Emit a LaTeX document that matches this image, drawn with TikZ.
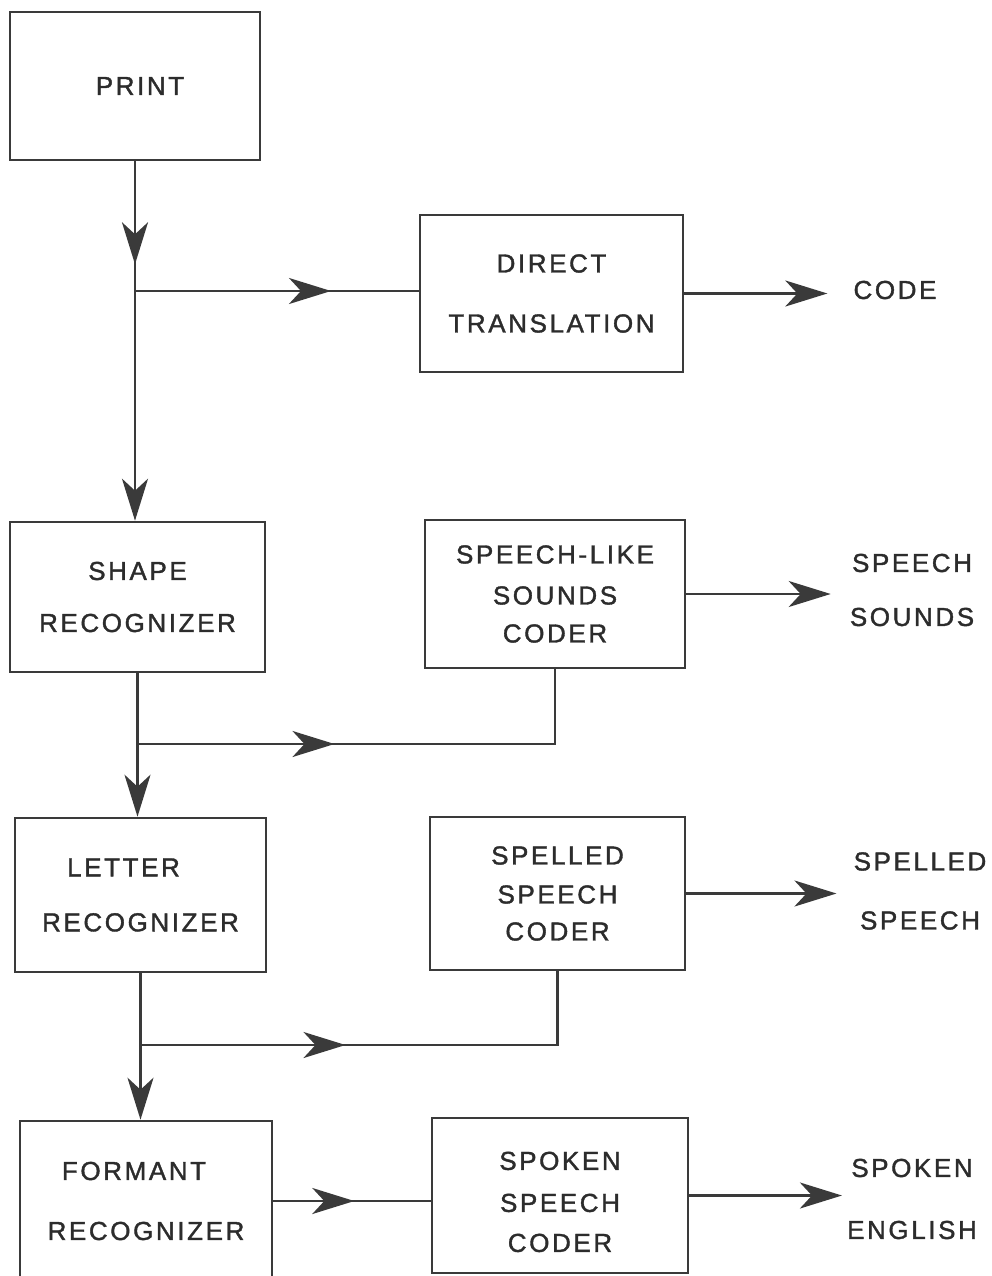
\documentclass[tikz,border=0pt]{standalone}
\usepackage{fontspec}
\setmainfont{Liberation Sans}[LetterSpace=10, FakeBold=1.4]
\usetikzlibrary{arrows.meta,decorations.markings,calc}

\definecolor{ink}{HTML}{3A3A3A}
\definecolor{textink}{HTML}{2C2C2C}

\tikzset{
  every node/.style={font=\fontsize{26}{30}\selectfont, text=textink},
  block/.style={draw=ink, line width=2.6pt, align=center, inner sep=0pt},
  tag/.style={align=center, inner sep=0pt},
  wire/.style={draw=ink, line width=2.6pt},
  head/.tip={Stealth[length=42pt, width=26pt, inset=12pt]},
  endtip/.style={-{head}},
  midtip/.style={postaction={decorate},
    decoration={markings, mark=at position #1 with {\arrow[ink]{head}}}},
}

\begin{document}
\begin{tikzpicture}[x=1pt, y=-1pt]
  \useasboundingbox (0,0) rectangle (992,1276);
  \clip (0,0) rectangle (992,1276);
  \fill[white] (0,0) rectangle (992,1276);

  % processing stages (left column)
  \node[block, minimum width=250pt, minimum height=148pt] (print) at (135,86)
    {\hspace*{10pt}PRINT};
  \node[block, minimum width=255pt, minimum height=150pt] (shape) at (137.5,597)
    {SHAPE\\[22pt]RECOGNIZER};
  \node[block, minimum width=251pt, minimum height=154pt] (letter) at (140.5,895)
    {LETTER\hspace*{34pt}\\[25pt]RECOGNIZER};
  \node[block, minimum width=252pt, minimum height=160pt] (formant) at (146,1201)
    {FORMANT\hspace*{24pt}\\[30pt]RECOGNIZER};

  % coders (middle column)
  \node[block, minimum width=263pt, minimum height=157pt] (direct) at (551.5,293.5)
    {DIRECT\\[30pt]TRANSLATION};
  \node[block, minimum width=260pt, minimum height=148pt] (speechlike) at (555,594)
    {SPEECH-LIKE\\[11pt]SOUNDS\\[8pt]CODER};
  \node[block, minimum width=255pt, minimum height=153pt] (spelled) at (557.5,893.5)
    {SPELLED\\[9pt]SPEECH\\[7pt]CODER};
  \node[block, minimum width=256pt, minimum height=155pt] (spoken) at (560,1195.5)
    {\rule{0pt}{31pt}SPOKEN\\[12pt]SPEECH\\[10pt]CODER};

  % outputs (right column)
  \node[tag] (code) at (895,290) {CODE};
  \node[tag] (sounds) at (912,590) {SPEECH\\[24pt]SOUNDS};
  \node[tag] (spelledout) at (920,891) {SPELLED\\[29pt]SPEECH};
  \node[tag] (english) at (912,1199) {SPOKEN\\[32pt]ENGLISH};

  % branch rows
  \coordinate (r1) at (0,291);
  \coordinate (r2) at (0,744);
  \coordinate (r3) at (0,1045);
  \coordinate (j1) at (print.south |- r1);
  \coordinate (j2) at (shape.south |- r2);
  \coordinate (j3) at (letter.south |- r3);

  % main spine
  \draw[wire, endtip, midtip=103pt] (print.south) -- (print.south |- shape.north);
  \draw[wire, endtip] (shape.south) -- (shape.south |- letter.north);
  \draw[wire, endtip] (letter.south) -- (letter.south |- formant.north);

  % branches into the coders
  \draw[wire, midtip=196pt] (j1) -- (j1 -| direct.west);
  \draw[wire, midtip=197pt] (j2) -- (j2 -| speechlike.south) -- (speechlike.south);
  \draw[wire, midtip=205pt] (j3) -- (j3 -| spelled.south) -- (spelled.south);
  \draw[wire, midtip=81pt] (formant.east) -- (formant.east -| spoken.west);

  % coder outputs
  \draw[wire, endtip, shorten >=26pt] (direct.east) -- (direct.east -| code.west);
  \draw[wire, endtip, shorten >=19pt] (speechlike.east) -- (speechlike.east -| sounds.west);
  \draw[wire, endtip, shorten >=17pt] (spelled.east) -- (spelled.east -| spelledout.west);
  \draw[wire, endtip, shorten >=5pt] (spoken.east) -- (spoken.east -| english.west);
\end{tikzpicture}
\end{document}
